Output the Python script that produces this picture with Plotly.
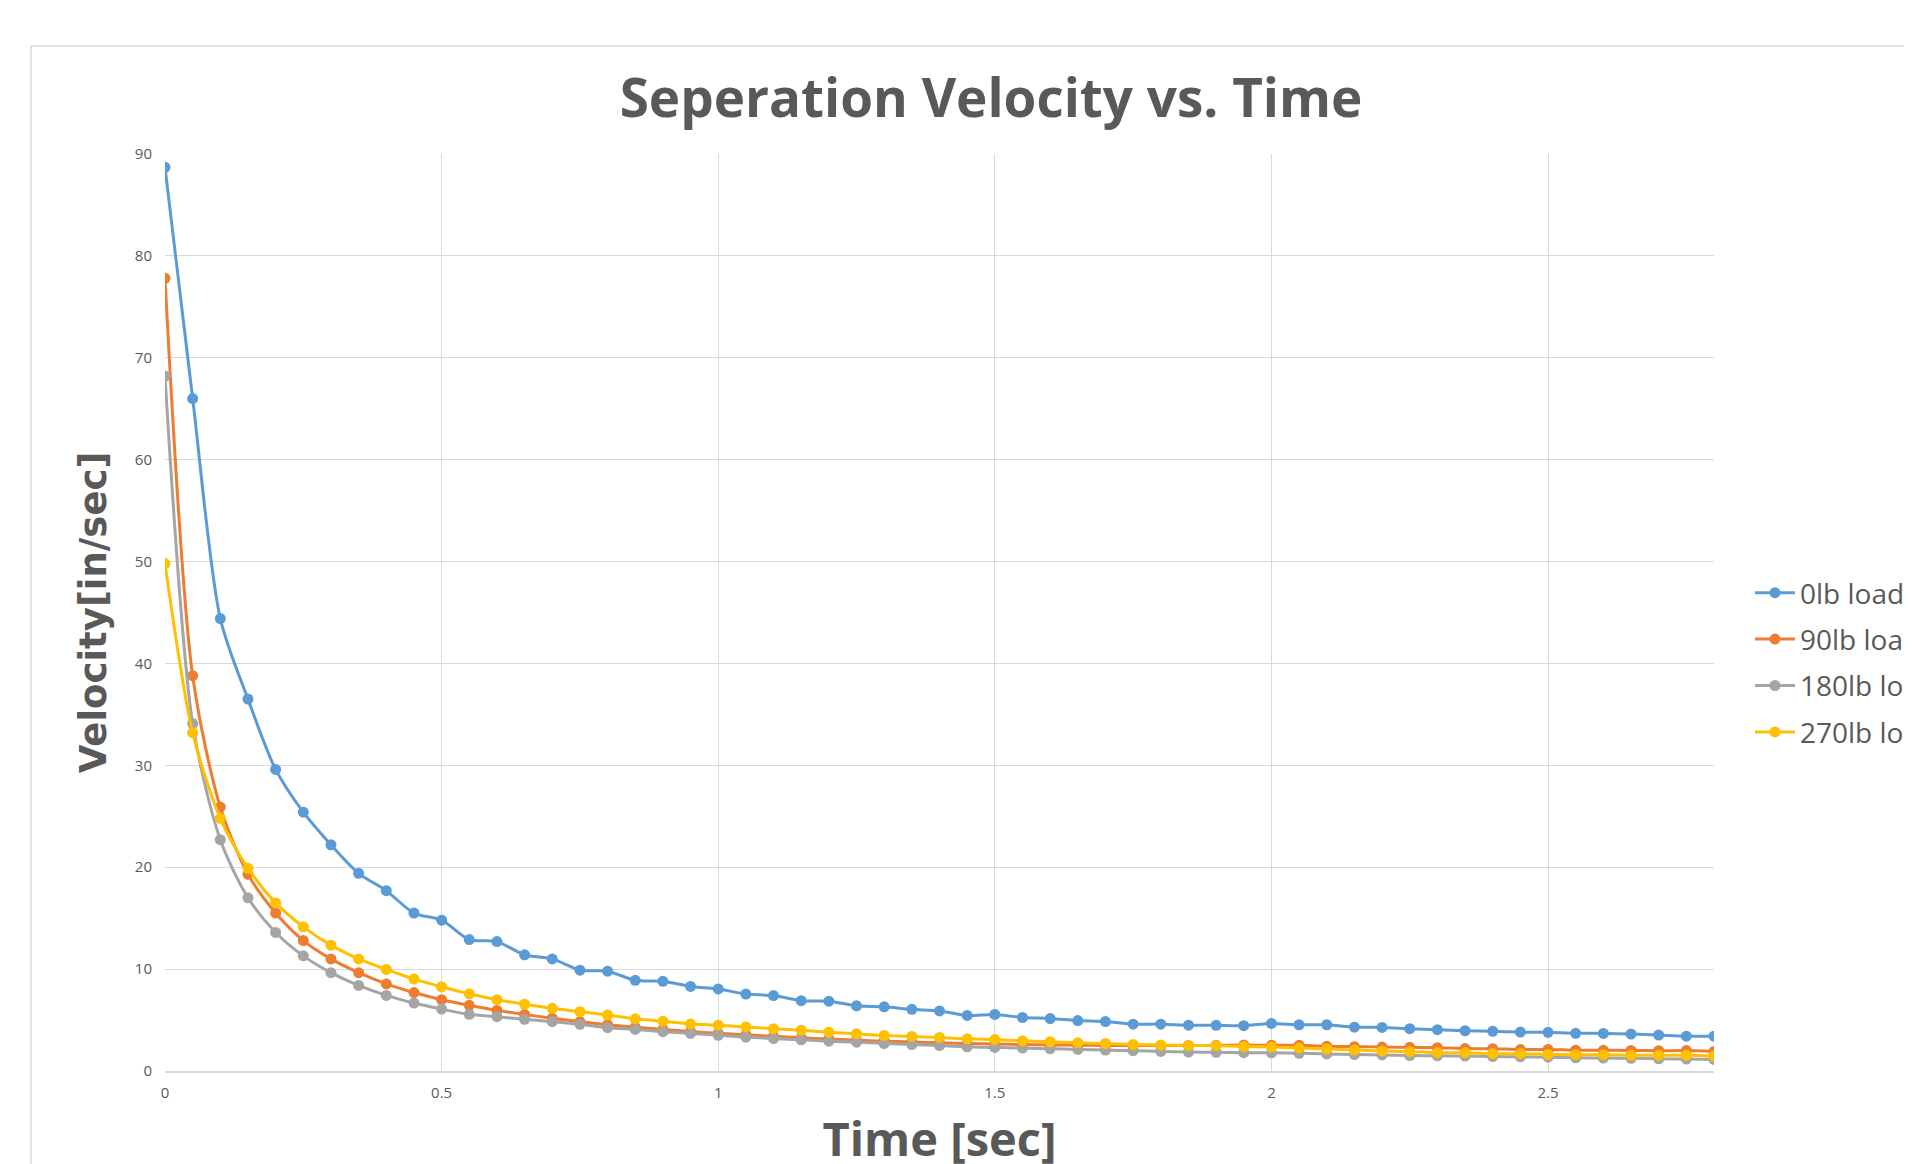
import plotly.graph_objects as go

time_sec = [0.0, 0.05, 0.1, 0.15, 0.2, 0.25, 0.3, 0.35, 0.4, 0.45,
            0.5, 0.55, 0.6, 0.65, 0.7, 0.75, 0.8, 0.85, 0.9, 0.95,
            1.0, 1.05, 1.1, 1.15, 1.2, 1.25, 1.3, 1.35, 1.4, 1.45,
            1.5, 1.55, 1.6, 1.65, 1.7, 1.75, 1.8, 1.85, 1.9, 1.95,
            2.0, 2.05, 2.1, 2.15, 2.2, 2.25, 2.3, 2.35, 2.4, 2.45,
            2.5, 2.55, 2.6, 2.65, 2.7, 2.75, 2.8]

load_0lb = [88.7, 66.0, 44.4, 36.5, 29.6, 25.4, 22.2, 19.4, 17.7, 15.5,
            14.8, 12.9, 12.7, 11.4, 11.0, 9.9, 9.8, 8.9, 8.8, 8.3,
            8.05, 7.55, 7.4, 6.9, 6.85, 6.4, 6.3, 6.05, 5.9, 5.45,
            5.55, 5.25, 5.15, 4.95, 4.85, 4.6, 4.6, 4.5, 4.48, 4.45,
            4.67, 4.54, 4.54, 4.3, 4.28, 4.15, 4.05, 3.95, 3.9, 3.82,
            3.8, 3.7, 3.69, 3.63, 3.53, 3.42, 3.42]

load_90lb = [77.8, 38.8, 25.9, 19.3, 15.5, 12.8, 11.0, 9.65, 8.55, 7.7,
             7.0, 6.45, 5.95, 5.55, 5.18, 4.85, 4.55, 4.3, 4.08, 3.88,
             3.7, 3.55, 3.4, 3.26, 3.14, 3.03, 2.93, 2.85, 2.77, 2.7,
             2.64, 2.6, 2.56, 2.53, 2.51, 2.5, 2.5, 2.51, 2.52, 2.55,
             2.52, 2.52, 2.42, 2.39, 2.35, 2.32, 2.29, 2.2, 2.19, 2.1,
             2.12, 2.04, 2.03, 2.02, 1.99, 2.0, 1.92]

load_180lb = [68.2, 34.1, 22.7, 17.0, 13.6, 11.3, 9.65, 8.4, 7.42, 6.67,
              6.08, 5.56, 5.33, 5.07, 4.84, 4.58, 4.25, 4.08, 3.86, 3.69,
              3.5, 3.32, 3.19, 3.06, 2.93, 2.83, 2.7, 2.6, 2.5, 2.38,
              2.31, 2.25, 2.18, 2.12, 2.05, 1.99, 1.92, 1.86, 1.84, 1.8,
              1.78, 1.74, 1.68, 1.62, 1.58, 1.52, 1.49, 1.46, 1.42, 1.39,
              1.36, 1.3, 1.27, 1.24, 1.2, 1.17, 1.14]

load_270lb = [49.8, 33.2, 24.8, 19.9, 16.5, 14.15, 12.35, 11.0, 9.97, 9.02,
              8.27, 7.58, 7.0, 6.55, 6.15, 5.82, 5.49, 5.12, 4.88, 4.62,
              4.5, 4.33, 4.14, 4.0, 3.81, 3.65, 3.49, 3.39, 3.29, 3.16,
              3.09, 2.96, 2.87, 2.77, 2.7, 2.6, 2.54, 2.5, 2.48, 2.4,
              2.35, 2.25, 2.16, 2.06, 1.96, 1.9, 1.8, 1.8, 1.7, 1.7,
              1.63, 1.6, 1.6, 1.54, 1.54, 1.54, 1.47]

series_names = ["0lb load", "90lb load", "180lb load", "270lb load"]
series_values = [load_0lb, load_90lb, load_180lb, load_270lb]
series_colors = ["#5B9BD5", "#ED7D31", "#A5A5A5", "#FFC000"]

x_ticks = [0, 0.5, 1, 1.5, 2, 2.5]
x_tick_labels = ["0", "0.5", "1", "1.5", "2", "2.5"]
y_ticks = [0, 10, 20, 30, 40, 50, 60, 70, 80, 90]

W, H = 1912, 1164
L, R, T, B = 157, 206, 146, 101
pw, ph = W - L - R, H - T - B

fig = go.Figure()
for name, vals, col in zip(series_names, series_values, series_colors):
    fig.add_trace(go.Scatter(
        x=time_sec, y=vals, name=name, legendgroup=name,
        mode="lines+markers",
        line=dict(color=col, width=3, shape="spline", smoothing=0.8),
        marker=dict(color=col, size=11, symbol="circle"),
    ))

grid = "#D9D9D9"
text_col = "#595959"

fig.update_layout(
    width=W, height=H,
    paper_bgcolor="white", plot_bgcolor="white",
    margin=dict(l=L, r=R, t=T, b=B, autoexpand=False),
    title=dict(text="<b>Seperation Velocity vs. Time</b>",
               font=dict(family="Open Sans", size=53, color=text_col),
               x=983 / W, xref="container", xanchor="center",
               y=1 - 90 / H, yref="container", yanchor="middle"),
    xaxis=dict(range=[0, 2.8], tickvals=x_ticks, ticktext=x_tick_labels,
               showgrid=True, gridcolor=grid, gridwidth=1,
               showline=True, linecolor=grid, linewidth=2,
               zeroline=False, ticks="", ticklabelstandoff=7,
               tickfont=dict(family="Open Sans", size=15, color=text_col),
               title=dict(text="<b>Time [sec]</b>", standoff=22,
                          font=dict(family="Open Sans", size=47, color=text_col))),
    yaxis=dict(range=[0, 90], tickvals=y_ticks,
               showgrid=True, gridcolor=grid, gridwidth=1,
               showline=False, zeroline=False, ticks="", ticklabelstandoff=12,
               tickfont=dict(family="Open Sans", size=15, color=text_col),
               title=dict(text="<b>Velocity[in/sec]</b>", standoff=16,
                          font=dict(family="DejaVu Sans", size=37, color=text_col))),
    legend=dict(x=(1742 - L) / pw, xanchor="left", xref="paper",
                y=(H - B - 560) / ph, yanchor="top", yref="paper",
                font=dict(family="Open Sans", size=28, color=text_col),
                tracegroupgap=7, bgcolor="rgba(0,0,0,0)", itemwidth=40),
    shapes=[dict(type="rect", xref="paper", yref="paper",
                 x0=(23 - L) / pw, x1=(W + 50 - L) / pw,
                 y0=(H - B - (H + 50)) / ph, y1=(H - B - 38) / ph,
                 line=dict(color=grid, width=1.5), fillcolor="rgba(0,0,0,0)",
                 layer="below")],
    showlegend=True,
)

fig.write_html("out.html")
